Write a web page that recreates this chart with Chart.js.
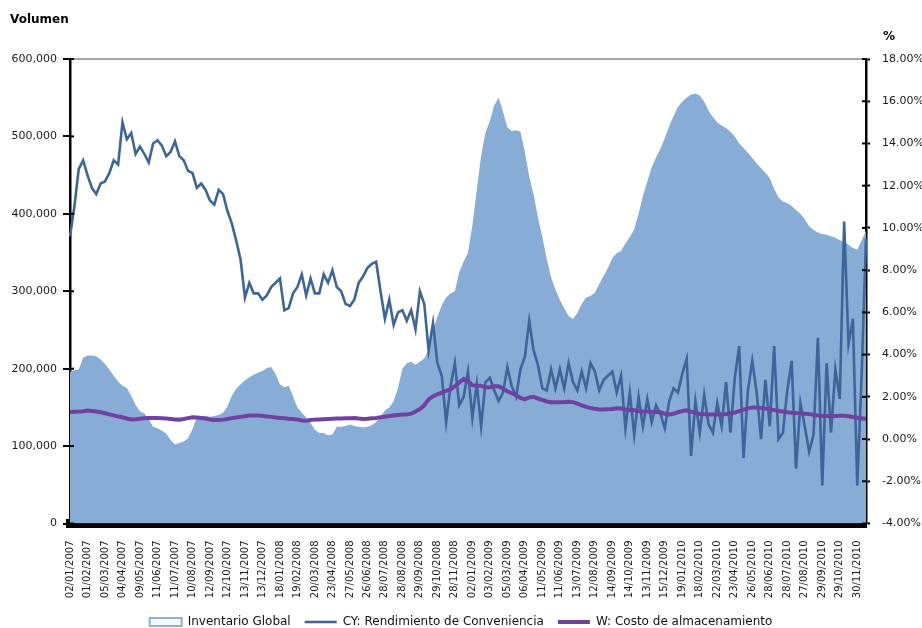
<!DOCTYPE html>
<html>
<head>
<meta charset="utf-8">
<script src="https://cdn.jsdelivr.net/npm/chart.js@4.4.1/dist/chart.umd.min.js"></script>
<style>
  html, body { margin: 0; padding: 0; background: #fff; overflow: hidden; }
  #wrap { position: relative; width: 922px; height: 628px; }
  .axis-title { position: absolute; font: bold 12px "DejaVu Sans", sans-serif; color: #000; }
</style>
</head>
<body>
<div id="wrap">
  <canvas id="inventoryChart"></canvas>
  <div class="axis-title" style="left:10px;top:12px;">Volumen</div>
  <div class="axis-title" style="left:883px;top:29px;">%</div>
</div>
<script>
// tick labels shown on the date axis (one every STEP samples)
const tickLabels = [
  "02/01/2007", "01/02/2007", "05/03/2007", "04/04/2007", "09/05/2007", "11/06/2007",
  "11/07/2007", "10/08/2007", "12/09/2007", "12/10/2007", "13/11/2007", "13/12/2007",
  "18/01/2008", "19/02/2008", "20/03/2008", "23/04/2008", "27/05/2008", "26/06/2008",
  "28/07/2008", "28/08/2008", "29/09/2008", "29/10/2008", "28/11/2008",
  "02/01/2009", "03/02/2009", "05/03/2009", "06/04/2009", "11/05/2009", "11/06/2009",
  "13/07/2009", "12/08/2009", "14/09/2009", "14/10/2009", "13/11/2009", "15/12/2009",
  "19/01/2010", "18/02/2010", "22/03/2010", "23/04/2010", "26/05/2010", "28/06/2010",
  "28/07/2010", "27/08/2010", "29/09/2010", "29/10/2010", "30/11/2010"
];
const STEP = 4;

// Inventario Global, thousands of units
const inventoryK = [
  196, 198, 199, 214, 217, 217, 216, 212, 206, 199,
  191, 183, 178, 175, 165, 153, 145, 142, 135, 125,
  123, 120, 116, 108, 102, 104, 106, 110, 122, 137,
  139, 139, 138, 139, 140, 143, 151, 165, 174, 180,
  185, 189, 192, 195, 197, 201, 202, 193, 180, 176,
  178, 164, 150, 143, 137, 130, 121, 117, 117, 114,
  115, 125, 125, 126, 128, 126, 125, 124, 125, 127,
  131, 138, 146, 150, 158, 175, 200, 207, 209, 205,
  209, 213, 225, 250, 267, 282, 292, 297, 300, 325,
  338, 350, 385, 430, 475, 505, 520, 540, 550, 532,
  512, 507, 508, 506, 480, 448, 425, 395, 370, 342,
  318, 302, 289, 278, 268, 264, 272, 284, 292, 294,
  298, 309, 320, 330, 343, 349, 352, 362, 370, 380,
  400, 423, 442, 460, 473, 484, 498, 513, 526, 538,
  545, 550, 554, 555, 553, 545, 533, 525, 518, 514,
  511, 506, 500, 491, 485, 479, 472, 465, 459, 453,
  446, 432, 421, 416, 414, 410, 405, 400, 393, 384,
  379, 376, 374, 373, 371, 369, 366, 364, 360, 356,
  354, 366, 378
];

// CY: Rendimiento de Conveniencia, %
const convenienceYield = [
  9.6, 11.0, 12.8, 13.2, 12.5, 11.9, 11.6, 12.1, 12.2, 12.6,
  13.2, 13.0, 15.0, 14.2, 14.5, 13.5, 13.85, 13.5, 13.1, 14.0,
  14.15, 13.9, 13.4, 13.6, 14.1, 13.4, 13.2, 12.7, 12.6, 11.9,
  12.1, 11.8, 11.3, 11.1, 11.8, 11.6, 10.8, 10.2, 9.4, 8.5,
  6.7, 7.4, 6.9, 6.9, 6.6, 6.8, 7.2, 7.4, 7.6, 6.1,
  6.2, 6.9, 7.2, 7.8, 6.8, 7.6, 6.9, 6.9, 7.8, 7.4,
  8.0, 7.2, 7.0, 6.4, 6.3, 6.6, 7.4, 7.7, 8.1, 8.3,
  8.4, 7.0, 5.7, 6.6, 5.4, 6.0, 6.1, 5.6, 6.1, 5.2,
  7.0, 6.4, 4.2, 5.5, 3.6, 3.0, 0.8, 2.5, 3.6, 1.6,
  2.0, 3.2, 1.0, 2.6, 0.6, 2.7, 2.9, 2.3, 1.8, 2.2,
  3.4, 2.5, 2.0, 3.3, 3.9, 5.6, 4.2, 3.5, 2.4, 2.3,
  3.3, 2.4, 3.3, 2.4, 3.6, 2.7, 2.3, 3.2, 2.4, 3.6,
  3.2, 2.3, 2.8, 3.0, 3.2, 2.2, 3.0, 0.5, 2.2, 0.2,
  2.0, 0.6, 1.9, 0.8, 1.6, 1.2, 0.5, 1.8, 2.4, 2.2,
  3.1, 3.8, -0.8, 1.8, 0.3, 2.1, 0.7, 0.3, 1.7, 0.6,
  2.7, 0.3, 2.9, 4.4, -0.9, 2.3, 3.7, 2.2, 0.0, 2.8,
  0.6, 4.4, 0.0, 0.3, 2.3, 3.7, -1.4, 1.7, 0.6, -0.6,
  0.2, 4.8, -2.2, 3.6, 0.3, 3.3, 1.9, 10.3, 4.5, 5.7,
  -2.2, 3.0, 9.5
];

// W: Costo de almacenamiento, %
const storageCost = [
  1.27, 1.29, 1.30, 1.32, 1.35, 1.33, 1.30, 1.27, 1.22, 1.17,
  1.12, 1.07, 1.03, 0.97, 0.93, 0.94, 0.96, 0.98, 1.00, 1.00,
  1.00, 0.99, 0.97, 0.95, 0.93, 0.92, 0.95, 0.99, 1.03, 1.02,
  1.00, 0.97, 0.93, 0.90, 0.90, 0.92, 0.95, 0.99, 1.02, 1.05,
  1.08, 1.11, 1.11, 1.11, 1.10, 1.07, 1.05, 1.02, 1.00, 0.98,
  0.96, 0.95, 0.92, 0.88, 0.87, 0.90, 0.92, 0.93, 0.94, 0.95,
  0.96, 0.97, 0.97, 0.98, 0.99, 1.00, 0.97, 0.95, 0.96, 0.98,
  1.00, 1.03, 1.06, 1.09, 1.12, 1.14, 1.16, 1.16, 1.20, 1.30,
  1.42, 1.60, 1.88, 2.02, 2.12, 2.20, 2.28, 2.35, 2.50, 2.68,
  2.85, 2.75, 2.55, 2.52, 2.52, 2.44, 2.45, 2.50, 2.50, 2.38,
  2.26, 2.17, 2.08, 1.95, 1.88, 1.97, 2.00, 1.92, 1.85, 1.78,
  1.74, 1.74, 1.74, 1.75, 1.77, 1.75, 1.68, 1.60, 1.52, 1.47,
  1.43, 1.40, 1.40, 1.41, 1.42, 1.46, 1.45, 1.40, 1.37, 1.36,
  1.33, 1.31, 1.30, 1.29, 1.28, 1.27, 1.20, 1.16, 1.20, 1.27,
  1.33, 1.36, 1.30, 1.24, 1.19, 1.17, 1.16, 1.16, 1.16, 1.16,
  1.18, 1.22, 1.25, 1.32, 1.39, 1.45, 1.50, 1.50, 1.47, 1.44,
  1.41, 1.37, 1.33, 1.30, 1.27, 1.25, 1.23, 1.22, 1.20, 1.18,
  1.15, 1.12, 1.10, 1.09, 1.08, 1.09, 1.10, 1.10, 1.08, 1.04,
  1.01, 0.98, 0.95
];

// one category per sample, only every STEP-th one carries a date
const labels = inventoryK.map((_, i) => (i % STEP === 0 ? tickLabels[i / STEP] || "" : ""));

const FONT = '"DejaVu Sans", sans-serif';
Chart.defaults.font.family = FONT;
Chart.defaults.font.size = 11;
Chart.defaults.color = "#1a1a1a";

// short tick marks inside the plot, so the y ticks cross the axis like the original
const innerTicks = {
  id: "innerTicks",
  afterDatasetsDraw(chart) {
    const { ctx, chartArea } = chart;
    ctx.save();
    ctx.strokeStyle = "#000";
    ctx.lineWidth = 2;
    ["y", "y1"].forEach((id) => {
      const s = chart.scales[id];
      const x0 = id === "y" ? chartArea.left : chartArea.right;
      const dir = id === "y" ? 1 : -1;
      s.ticks.forEach((t) => {
        const y = s.getPixelForValue(t.value);
        ctx.beginPath();
        ctx.moveTo(x0, y);
        ctx.lineTo(x0 + dir * 4, y);
        ctx.stroke();
      });
    });
    ctx.restore();
  },
};

const LEGEND_PAD = 14;
const LEGEND_FONT = 12;

const chart = new Chart(document.getElementById("inventoryChart"), {
  type: "line",
  data: {
    labels: labels,
    datasets: [
      {
        label: "Inventario Global",
        data: inventoryK.map((v) => v * 1000),
        yAxisID: "y",
        fill: "origin",
        backgroundColor: "#87acd6",
        borderColor: "#87acd6",
        borderWidth: 0,
        pointRadius: 0,
        pointStyle: "rect",
        order: 3,
      },
      {
        label: "CY: Rendimiento de Conveniencia",
        data: convenienceYield,
        yAxisID: "y1",
        borderColor: "#3d6599",
        borderWidth: 2.6,
        pointRadius: 0,
        pointStyle: "line",
        fill: false,
        order: 2,
      },
      {
        label: "W: Costo de almacenamiento",
        data: storageCost,
        yAxisID: "y1",
        borderColor: "#7141a1",
        borderWidth: 4,
        pointRadius: 0,
        pointStyle: "line",
        fill: false,
        order: 1,
      },
    ],
  },
  options: {
    responsive: true,
    maintainAspectRatio: false,
    animation: false,
    layout: { padding: { top: 59, left: 0, right: 0, bottom: 0 } },
    plugins: {
      tooltip: { enabled: false },
      legend: {
        position: "bottom",
        labels: {
          usePointStyle: true,
          pointStyleWidth: 32,
          boxHeight: 8,
          padding: LEGEND_PAD,
          color: "#111",
          font: { size: LEGEND_FONT },
          sort: (a, b) => a.datasetIndex - b.datasetIndex,
          generateLabels(c) {
            const items = Chart.defaults.plugins.legend.labels.generateLabels(c);
            items.forEach((it) => {
              if (it.datasetIndex === 0) {
                it.fillStyle = "#f4f8fd";
                it.strokeStyle = "#8fb1d9";
                it.lineWidth = 2;
              }
            });
            return items;
          },
        },
      },
    },
    scales: {
      x: {
        grid: { display: false },
        border: { display: true, color: "#000", width: 9 },
        ticks: {
          autoSkip: false,
          minRotation: 90,
          maxRotation: 90,
          padding: 9,
          font: { size: 10 },
          callback: (v, i) => labels[i] || null,
        },
        afterFit: (scale) => { scale.height = 104.5 - (LEGEND_PAD + LEGEND_FONT); },
      },
      y: {
        position: "left",
        min: 0,
        max: 600000,
        ticks: {
          stepSize: 100000,
          padding: 6,
          callback: (v) => v.toLocaleString("en-US"),
        },
        grid: {
          color: (ctx) => (ctx.tick && ctx.tick.value === 600000 ? "#a6a6a6" : "rgba(0,0,0,0)"),
          lineWidth: 2,
          tickColor: "#000",
          tickWidth: 2,
          tickLength: 7,
        },
        border: { color: "#000", width: 2.5 },
        afterFit: (scale) => { scale.width = 70; },
      },
      y1: {
        position: "right",
        min: -4,
        max: 18,
        ticks: {
          stepSize: 2,
          padding: 12,
          callback: (v) => v.toFixed(2) + "%",
        },
        grid: {
          drawOnChartArea: false,
          tickColor: "#000",
          tickWidth: 2,
          tickLength: 4,
        },
        border: { color: "#000", width: 2.5 },
        afterFit: (scale) => { scale.width = 56; },
      },
    },
  },
  plugins: [innerTicks],
});

// keep the legend row low, close to the bottom edge as in the original
const baseFit = chart.legend.fit;
chart.legend.fit = function () {
  baseFit.call(this);
  this.height = LEGEND_PAD + LEGEND_FONT;
};
chart.update();
</script>
</body>
</html>
